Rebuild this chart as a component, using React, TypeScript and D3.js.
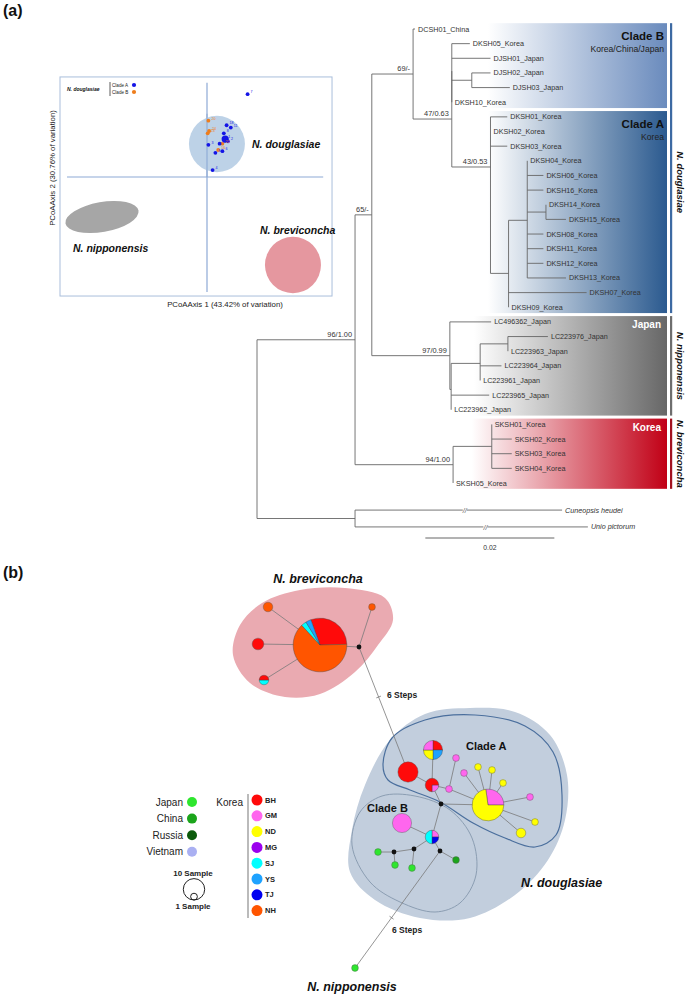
import React from "react";
import * as d3 from "d3";

const FONT = "'Liberation Sans', Arial, Helvetica, sans-serif";

// ---------------- PCoA data ----------------
const PCOA_POINTS = [
  { clade: "A", pc1: 0.29, pc2: 0.72, label: "7" },
  { clade: "B", pc1: 0.01, pc2: 0.49, label: "20" },
  { clade: "B", pc1: 0.015, pc2: 0.4, label: "24" },
  { clade: "B", pc1: 0.005, pc2: 0.38, label: "23" },
  { clade: "A", pc1: 0.14, pc2: 0.45, label: "18" },
  { clade: "A", pc1: 0.17, pc2: 0.43, label: "11" },
  { clade: "A", pc1: 0.12, pc2: 0.38, label: "8" },
  { clade: "A", pc1: 0.13, pc2: 0.33, label: "1", big: true },
  { clade: "A", pc1: 0.15, pc2: 0.31, label: "2" },
  { clade: "B", pc1: 0.11, pc2: 0.29, label: "22" },
  { clade: "A", pc1: 0.09, pc2: 0.29, label: "5" },
  { clade: "A", pc1: 0.01, pc2: 0.28, label: "3" },
  { clade: "B", pc1: 0.08, pc2: 0.235, label: "16" },
  { clade: "A", pc1: 0.06, pc2: 0.21, label: "9" },
  { clade: "A", pc1: 0.11, pc2: 0.225, label: "6" },
  { clade: "A", pc1: 0.04, pc2: 0.06, label: "4" },
];
const PCOA_CLADE_COLORS = { A: "#1414e6", B: "#ee7d1c" };
const PCOA_GROUPS = [
  { name: "N. douglasiae", pc1: 0.071, pc2: 0.287, r1: 0.2, r2: 0.245, rot: 0, fill: "#b6cde4" },
  { name: "N. nipponensis", pc1: -0.75, pc2: -0.348, r1: 0.265, r2: 0.13, rot: -10, fill: "#a6a6a6" },
  { name: "N. breviconcha", pc1: 0.614, pc2: -0.765, r1: 0.2, r2: 0.245, rot: 0, fill: "#e5979f" },
];
const PCOA_AXIS_LABELS = ["PCoAAxis 1 (43.42% of variation)", "PCoAAxis 2 (30.76% of variation)"];

// ---------------- Tree data ----------------
const TREE = {
  bl: 0,
  children: [
    {
      support: "96/1.00", bl: 0.0152, children: [
        {
          support: "65/-", bl: 0.0026, children: [
            {
              support: "69/-", bl: 0.0064, children: [
                { name: "DCSH01_China", bl: 0.0003 },
                {
                  support: "47/0.63", bl: 0.006, children: [
                    {
                      bl: 0, children: [
                        { name: "DKSH05_Korea", bl: 0.0028 },
                        { name: "DJSH01_Japan", bl: 0.006 },
                        { bl: 0.0031, children: [{ name: "DJSH02_Japan", bl: 0.0029 }, { name: "DJSH03_Japan", bl: 0.0059 }] },
                        { name: "DKSH10_Korea", bl: 0 },
                      ],
                    },
                    {
                      support: "43/0.53", bl: 0.006, children: [
                        { name: "DKSH01_Korea", bl: 0.0026 },
                        { name: "DKSH02_Korea", bl: 0 },
                        { name: "DKSH03_Korea", bl: 0.0026 },
                        {
                          bl: 0.0028, children: [
                            {
                              bl: 0.0029, children: [
                                { name: "DKSH04_Korea", bl: 0 },
                                { name: "DKSH06_Korea", bl: 0.0025 },
                                { name: "DKSH16_Korea", bl: 0.0025 },
                                { bl: 0.0029, children: [{ name: "DKSH14_Korea", bl: 0 }, { name: "DKSH15_Korea", bl: 0.0031 }] },
                                { name: "DKSH08_Korea", bl: 0.0025 },
                                { name: "DKSH11_Korea", bl: 0.0025 },
                                { name: "DKSH12_Korea", bl: 0.0025 },
                                { name: "DKSH13_Korea", bl: 0.006 },
                              ],
                            },
                            { name: "DKSH07_Korea", bl: 0.0121 },
                            { name: "DKSH09_Korea", bl: 0 },
                          ],
                        },
                      ],
                    },
                  ],
                },
              ],
            },
            {
              support: "97/0.99", bl: 0.0121, children: [
                { name: "LC496362_Japan", bl: 0.0064 },
                {
                  bl: 0.0002, children: [
                    {
                      bl: 0.0045, children: [
                        { bl: 0.0043, children: [{ name: "LC223976_Japan", bl: 0.0062 }, { name: "LC223963_Japan", bl: 0 }] },
                        { name: "LC223964_Japan", bl: 0.0033 },
                        { name: "LC223961_Japan", bl: 0 },
                      ],
                    },
                    { name: "LC223965_Japan", bl: 0.0059 },
                    { name: "LC223962_Japan", bl: 0 },
                  ],
                },
              ],
            },
          ],
        },
        {
          support: "94/1.00", bl: 0.0152, children: [
            {
              bl: 0.006, children: [
                { name: "SKSH01_Korea", bl: 0 },
                { name: "SKSH02_Korea", bl: 0.0031 },
                { name: "SKSH03_Korea", bl: 0.0031 },
                { name: "SKSH04_Korea", bl: 0.0031 },
              ],
            },
            { name: "SKSH05_Korea", bl: 0 },
          ],
        },
      ],
    },
    {
      bl: 0.0152, children: [
        { name: "Cuneopsis heudei", bl: 0.0321, outgroup: true, gap: 0.85, brk: 0.53 },
        { name: "Unio pictorum", bl: 0.0361, outgroup: true, gap: 0.15, brk: 0.56 },
      ],
    },
  ],
};

const CLADE_BOXES = [
  { label: "Clade B", sub: "Korea/China/Japan", first: "DCSH01_China", last: "DKSH10_Korea", color: "#6a8bbd", mid: 0.3, white: false },
  { label: "Clade A", sub: "Korea", first: "DKSH01_Korea", last: "DKSH09_Korea", color: "#2b5a8f", mid: 0.3, white: false },
  { label: "Japan", sub: "", first: "LC496362_Japan", last: "LC223962_Japan", color: "#676767", mid: 0.12, white: true },
  { label: "Korea", sub: "", first: "SKSH01_Korea", last: "SKSH05_Korea", color: "#c10016", mid: 0.12, white: true },
];
const SPECIES_BARS = [
  { name: "N. douglasiae", first: "DCSH01_China", last: "DKSH09_Korea", color: "#3d6aa3", shift: 14 },
  { name: "N. nipponensis", first: "LC496362_Japan", last: "LC223962_Japan", color: "#6e6e6e", shift: 0 },
  { name: "N. breviconcha", first: "SKSH01_Korea", last: "SKSH05_Korea", color: "#a3121f", shift: 0 },
];
const SCALE_BAR = 0.02;

// ---------------- Network data ----------------
const KOREA_POPS = ["BH", "GM", "ND", "MG", "SJ", "YS", "TJ", "NH"];
const KOREA_COLORS = ["#ff0a0a", "#ff66ee", "#ffff00", "#9b00ee", "#00ffff", "#1ea2ff", "#0000f0", "#ff5500"];
const COUNTRIES = ["Japan", "China", "Russia", "Vietnam"];
const COUNTRY_COLORS = ["#2ee62e", "#1ba51b", "#0b5a0b", "#aab0f2"];

const HAPLOTYPES = [
  { id: "b1", x: 120, y: 85, comp: { BH: 19, NH: 40, SJ: 2, YS: 2 }, rot: -20 },
  { id: "b2", x: 58, y: 84, comp: { BH: 3 }, rot: 0 },
  { id: "b3", x: 64, y: 120, comp: { SJ: 1, BH: 1 }, rot: 90 },
  { id: "b4", x: 68, y: 47, comp: { NH: 2 }, rot: 0 },
  { id: "b5", x: 172, y: 47, comp: { NH: 1 }, rot: 0 },
  { id: "a1", x: 208, y: 212, comp: { BH: 9 }, rot: 0 },
  { id: "a2", x: 233, y: 190, comp: { BH: 2, YS: 2, ND: 2, GM: 2 }, rot: 0 },
  { id: "a3", x: 232, y: 225, comp: { GM: 1, BH: 3 }, rot: 90 },
  { id: "a4", x: 256, y: 198, comp: { GM: 1 }, rot: 0 },
  { id: "a5", x: 249, y: 229, comp: { GM: 1 }, rot: 0 },
  { id: "a6", x: 264, y: 213, comp: { GM: 1 }, rot: 0 },
  { id: "a7", x: 278, y: 207, comp: { ND: 1 }, rot: 0 },
  { id: "a8", x: 292, y: 210, comp: { ND: 1 }, rot: 0 },
  { id: "a9", x: 288, y: 245, comp: { GM: 6, ND: 16 }, rot: -8 },
  { id: "a10", x: 303, y: 223, comp: { ND: 1 }, rot: 0 },
  { id: "a11", x: 330, y: 237, comp: { GM: 1 }, rot: 0 },
  { id: "a12", x: 335, y: 262, comp: { ND: 1 }, rot: 0 },
  { id: "a13", x: 321, y: 273, comp: { ND: 2 }, rot: 0 },
  { id: "c1", x: 202, y: 263, comp: { GM: 8 }, rot: 0 },
  { id: "c2", x: 232, y: 277, comp: { GM: 1, TJ: 1, SJ: 2 }, rot: 0 },
  { id: "c3", x: 178, y: 292, comp: { Japan: 1 }, rot: 0 },
  { id: "c4", x: 195, y: 305, comp: { Japan: 1 }, rot: 0 },
  { id: "c5", x: 212, y: 308, comp: { Japan: 1 }, rot: 0 },
  { id: "c6", x: 256, y: 300, comp: { China: 1 }, rot: 0 },
  { id: "n1", x: 155, y: 408, comp: { Japan: 1 }, rot: 0 },
];
const MEDIANS = [
  { id: "m1", x: 159, y: 87 },
  { id: "m2", x: 241, y: 244 },
  { id: "m3", x: 194, y: 292 },
  { id: "m4", x: 214, y: 289 },
  { id: "m5", x: 240, y: 291 },
];
const EDGES = [
  ["b1", "b2", 1], ["b1", "b3", 1], ["b1", "b4", 1], ["b1", "m1", 1], ["m1", "b5", 1],
  ["m1", "a1", 6],
  ["a1", "a3", 1], ["a3", "a2", 1], ["a3", "a5", 1], ["a5", "a4", 1], ["a3", "m2", 1], ["a5", "a9", 1],
  ["m2", "a9", 1], ["a6", "a9", 1], ["a7", "a9", 1], ["a8", "a9", 1], ["a10", "a9", 1], ["a11", "a9", 1],
  ["a12", "a9", 1], ["a13", "a9", 1],
  ["m2", "c2", 1], ["c1", "c2", 1], ["c2", "m4", 1], ["m4", "m3", 1], ["m3", "c3", 1], ["m3", "c4", 1],
  ["m4", "c5", 1], ["c2", "m5", 1], ["m5", "c6", 1],
  ["m5", "n1", 6],
];
const BLOB_BREVICONCHA = [[33, 95], [40, 65], [62, 43], [100, 30], [145, 28], [185, 38], [193, 60], [178, 85], [155, 112], [120, 134], [85, 137], [50, 123]];
const BLOB_DOUGLASIAE = [[150, 312], [152, 270], [165, 225], [190, 180], [225, 154], [270, 148], [315, 152], [350, 175], [367, 215], [365, 260], [348, 300], [315, 335], [270, 358], [220, 358], [175, 340]];
const OUTLINE_CLADE_A = [[183, 205], [192, 178], [225, 160], [275, 155], [325, 166], [353, 192], [362, 235], [356, 275], [335, 287], [305, 278], [273, 263], [240, 242], [210, 230], [188, 220]];
const OUTLINE_CLADE_B = [[152, 285], [160, 252], [182, 236], [215, 236], [250, 250], [272, 278], [276, 315], [260, 343], [235, 352], [200, 342], [170, 322]];

// ---------------- Component ----------------
export default function App() {
  const W = 685, H = 996;

  const xP = d3.scaleLinear().domain([-1, 1]).range([67, 347]);
  const yP = d3.scaleLinear().domain([-1, 1]).range([292, 62]);

  const root: any = d3.hierarchy(TREE as any, (d: any) => d.children);
  const tipY = d3.scaleLinear().domain([0, 31]).range([29, 483]);
  const xT = d3.scaleLinear().domain([0, SCALE_BAR]).range([257, 386]);
  let row = -1;
  root.leaves().forEach((l: any) => {
    row += 1 + (l.data.gap || 0);
    l.ty = tipY(row);
  });
  root.eachAfter((n: any) => {
    if (n.children) n.ty = d3.mean(n.children, (c: any) => c.ty);
  });
  root.eachBefore((n: any) => {
    n.len = (n.parent ? n.parent.len : 0) + n.data.bl;
    n.tx = xT(n.len);
  });
  const nodes: any[] = root.descendants();
  const leafBy: any = {};
  root.leaves().forEach((l: any) => (leafBy[l.data.name] = l));
  const leafNames = root.leaves().map((l: any) => l.data.name);
  const step = tipY(1) - tipY(0);
  const boxRight = 667;
  const lca = (a: any, b: any) => {
    const p = a.path(b);
    return p.reduce((m: any, n: any) => (n.depth < m.depth ? n : m), p[0]);
  };
  const speciesOf = (name: string) =>
    SPECIES_BARS.find((s) => {
      const i0 = leafNames.indexOf(s.first), i1 = leafNames.indexOf(s.last), i = leafNames.indexOf(name);
      return i >= i0 && i <= i1;
    });

  const branchColor = "#666";

  const nX = d3.scaleLinear().domain([0, 480]).range([200, 680]);
  const nY = d3.scaleLinear().domain([0, 420]).range([560, 980]);
  const rS = d3.scaleSqrt().domain([0, 10]).range([0, 10.7]);
  const colorOf = (k: string) => {
    const i = KOREA_POPS.indexOf(k);
    if (i >= 0) return KOREA_COLORS[i];
    return COUNTRY_COLORS[COUNTRIES.indexOf(k)];
  };
  const posBy: any = {};
  HAPLOTYPES.forEach((h) => (posBy[h.id] = { x: nX(h.x), y: nY(h.y) }));
  MEDIANS.forEach((m) => (posBy[m.id] = { x: nX(m.x), y: nY(m.y) }));
  const blobLine = d3
    .line<number[]>()
    .x((d) => nX(d[0]))
    .y((d) => nY(d[1]))
    .curve(d3.curveCatmullRomClosed.alpha(0.5));
  const arc = d3.arc<any>();

  return (
    <svg width={W} height={H} style={{ position: "absolute", left: 0, top: 0, background: "#fff" }} fontFamily={FONT}>
      <defs>
        {CLADE_BOXES.map((b, i) => (
          <linearGradient key={i} id={"grad" + i} x1="0" x2="1" y1="0" y2="0">
            <stop offset="0" stopColor="#ffffff" />
            <stop offset={b.mid} stopColor="#ffffff" stopOpacity={1} />
            <stop offset="1" stopColor={b.color} />
          </linearGradient>
        ))}
      </defs>

      <text x={3} y={16} fontSize={16} fontWeight="bold" fill="#111">(a)</text>

      {/* ============ PCoA ============ */}
      <g>
        <rect x={xP(-1.05)} y={yP(0.87)} width={xP(0.893) - xP(-1.05)} height={yP(-1.035) - yP(0.87)} fill="#fff" stroke="#a9bedb" strokeWidth={1} />
        <line x1={xP(0)} x2={xP(0)} y1={yP(0.82)} y2={yP(-1)} stroke="#8ea9d6" strokeWidth={1.2} />
        <line x1={xP(-1)} x2={xP(0.83)} y1={yP(0)} y2={yP(0)} stroke="#8ea9d6" strokeWidth={1.2} />
        {PCOA_GROUPS.map((g, i) => (
          <ellipse
            key={i}
            cx={xP(g.pc1)}
            cy={yP(g.pc2)}
            rx={xP(g.r1) - xP(0)}
            ry={yP(0) - yP(g.r2)}
            fill={g.fill}
            opacity={i === 0 ? 0.9 : 1}
            transform={`rotate(${g.rot} ${xP(g.pc1)} ${yP(g.pc2)})`}
          />
        ))}
        <line x1={xP(0)} x2={xP(0)} y1={yP(0.55)} y2={yP(0.0)} stroke="#8ea9d6" strokeWidth={1.2} opacity={0.8} />
        {PCOA_POINTS.map((p, i) => (
          <g key={i}>
            <circle cx={xP(p.pc1)} cy={yP(p.pc2)} r={p.big ? 3.6 : 1.9} fill={(PCOA_CLADE_COLORS as any)[p.clade]} />
            <text x={xP(p.pc1) + 3} y={yP(p.pc2) - 1} fontSize={3.6} fill={(PCOA_CLADE_COLORS as any)[p.clade]}>{p.label}</text>
          </g>
        ))}
        <text x={252} y={148} fontSize={10.5} fontWeight="bold" fontStyle="italic" fill="#111">{PCOA_GROUPS[0].name}</text>
        <text x={73} y={252} fontSize={10.5} fontWeight="bold" fontStyle="italic" fill="#111">{PCOA_GROUPS[1].name}</text>
        <text x={260} y={234} fontSize={10.5} fontWeight="bold" fontStyle="italic" fill="#111">{PCOA_GROUPS[2].name}</text>
        <text x={67} y={91} fontSize={5} fontWeight="bold" fontStyle="italic" fill="#111">N. douglasiae</text>
        <line x1={110} x2={110} y1={82} y2={96} stroke="#333" strokeWidth={0.8} />
        <text x={112} y={87} fontSize={4.6} fill="#222">Clade A</text>
        <circle cx={134} cy={85} r={2.1} fill={PCOA_CLADE_COLORS.A} />
        <text x={112} y={94} fontSize={4.6} fill="#222">Clade B</text>
        <circle cx={134} cy={92} r={2.1} fill={PCOA_CLADE_COLORS.B} />
        <text x={225} y={307} fontSize={7.8} textAnchor="middle" fill="#222">{PCOA_AXIS_LABELS[0]}</text>
        <text transform={`translate(55,168) rotate(-90)`} fontSize={7.8} textAnchor="middle" fill="#222">{PCOA_AXIS_LABELS[1]}</text>
      </g>

      {/* ============ Tree ============ */}
      <g>
        {CLADE_BOXES.map((b, i) => {
          const top = leafBy[b.first].ty - step / 2 + 1.5;
          const bot = leafBy[b.last].ty + step / 2 - 1.5;
          const sp = speciesOf(b.first)!;
          const anc = lca(leafBy[sp.first], leafBy[sp.last]);
          const left = anc.tx - (i === 3 ? 8 : 2);
          return <rect key={i} x={left} y={top} width={boxRight - left} height={bot - top} fill={`url(#grad${i})`} />;
        })}
        {CLADE_BOXES.map((b, i) => {
          const top = leafBy[b.first].ty - step / 2 + 1.5;
          if (b.white)
            return (
              <text key={i} x={boxRight - 6} y={top + 12} fontSize={10} fontWeight="bold" fill="#fff" textAnchor="end">{b.label}</text>
            );
          return (
            <g key={i}>
              <text x={boxRight - 3} y={top + 16.5} fontSize={11.5} fontWeight="bold" fill="#111" textAnchor="end">{b.label}</text>
              <text x={boxRight - 3} y={top + 29} fontSize={8.6} fill="#222" textAnchor="end">{b.sub}</text>
            </g>
          );
        })}
        {SPECIES_BARS.map((s, i) => {
          const top = leafBy[s.first].ty - step / 2 + 1.5;
          const bot = leafBy[s.last].ty + step / 2 - 1.5;
          const cy = (top + bot) / 2 + s.shift;
          return (
            <g key={i}>
              <rect x={670} y={top} width={2.2} height={bot - top} fill={s.color} />
              <text transform={`translate(677,${cy}) rotate(90)`} fontSize={9.5} fontWeight="bold" fontStyle="italic" textAnchor="middle" fill="#111">{s.name}</text>
            </g>
          );
        })}
        {nodes.filter((n) => n.parent).map((n, i) => (
          <line key={"h" + i} x1={n.parent.tx} x2={n.tx} y1={n.ty} y2={n.ty} stroke={branchColor} strokeWidth={0.9} />
        ))}
        {nodes.filter((n) => n.children).map((n, i) => {
          const ys = n.children.map((c: any) => c.ty);
          return <line key={"v" + i} x1={n.tx} x2={n.tx} y1={d3.min(ys)} y2={d3.max(ys)} stroke={branchColor} strokeWidth={0.9} />;
        })}
        {root.leaves().filter((l: any) => l.data.outgroup).map((l: any, i: number) => {
          const bx = l.parent.tx + (l.tx - l.parent.tx) * l.data.brk;
          return (
            <g key={"br" + i}>
              <rect x={bx - 2} y={l.ty - 1.5} width={4} height={3} fill="#fff" />
              <text x={bx} y={l.ty + 2.6} fontSize={7} fontStyle="italic" textAnchor="middle" fill="#555">//</text>
            </g>
          );
        })}
        {root.leaves().map((l: any, i: number) => (
          <text key={"t" + i} x={l.tx + 3} y={l.ty} dy="0.35em" fontSize={7.2} fontStyle={l.data.outgroup ? "italic" : "normal"} fill="#333">{l.data.name}</text>
        ))}
        {nodes.filter((n) => n.data.support).map((n, i) => (
          <text key={"s" + i} x={n.tx - 3} y={n.ty - 3} fontSize={7.4} textAnchor="end" fill="#333">{n.data.support}</text>
        ))}
        <line x1={xT(0.0261)} x2={xT(0.0261 + SCALE_BAR)} y1={538} y2={538} stroke="#555" strokeWidth={0.9} />
        <text x={(xT(0.0261) + xT(0.0261 + SCALE_BAR)) / 2} y={550} fontSize={6.8} textAnchor="middle" fill="#333">{SCALE_BAR}</text>
      </g>

      {/* ============ Network ============ */}
      <text x={3} y={578} fontSize={16} fontWeight="bold" fill="#111">(b)</text>
      <g>
        <path d={blobLine(BLOB_BREVICONCHA as any)!} fill="#eaaab1" />
        <path d={blobLine(BLOB_DOUGLASIAE as any)!} fill="#c2cedd" />
        <path d={blobLine(OUTLINE_CLADE_A as any)!} fill="none" stroke="#4b6f9d" strokeWidth={1.2} />
        <path d={blobLine(OUTLINE_CLADE_B as any)!} fill="none" stroke="#8497ad" strokeWidth={0.9} />
        {EDGES.map((e, i) => {
          const a = posBy[e[0] as string], b = posBy[e[1] as string];
          const steps = e[2] as number;
          const tickT = e[1] === "a1" ? 0.4 : 0.57;
          const tx = a.x + (b.x - a.x) * tickT, ty = a.y + (b.y - a.y) * tickT;
          const ang = Math.atan2(b.y - a.y, b.x - a.x);
          return (
            <g key={i}>
              <line x1={a.x} y1={a.y} x2={b.x} y2={b.y} stroke="#7a7a7a" strokeWidth={0.8} />
              {steps > 1 && (
                <line
                  x1={tx - 2.5 * Math.cos(ang + Math.PI / 2)}
                  y1={ty - 2.5 * Math.sin(ang + Math.PI / 2)}
                  x2={tx + 2.5 * Math.cos(ang + Math.PI / 2)}
                  y2={ty + 2.5 * Math.sin(ang + Math.PI / 2)}
                  stroke="#777"
                  strokeWidth={0.8}
                />
              )}
            </g>
          );
        })}
        {MEDIANS.map((m, i) => (
          <circle key={i} cx={nX(m.x)} cy={nY(m.y)} r={2.4} fill="#111" />
        ))}
        {HAPLOTYPES.map((h, i) => {
          const entries = Object.entries(h.comp);
          const total = d3.sum(entries, (e) => e[1] as number);
          const r = rS(total);
          const rot = (h.rot * Math.PI) / 180;
          const pie = d3.pie<any>().sort(null).value((d: any) => d[1]).startAngle(rot).endAngle(rot + 2 * Math.PI);
          const arcs = pie(entries);
          return (
            <g key={i} transform={`translate(${nX(h.x)},${nY(h.y)})`}>
              {arcs.length === 1 ? (
                <circle r={r} fill={colorOf(entries[0][0])} stroke="#555" strokeWidth={0.4} />
              ) : (
                arcs.map((a, j) => (
                  <path key={j} d={arc({ ...a, innerRadius: 0, outerRadius: r })!} fill={colorOf(a.data[0])} stroke="#444" strokeWidth={0.4} />
                ))
              )}
            </g>
          );
        })}
        <text x={318} y={583} fontSize={12.5} fontWeight="bold" fontStyle="italic" textAnchor="middle" fill="#111">N. breviconcha</text>
        <text x={521} y={887} fontSize={12.5} fontWeight="bold" fontStyle="italic" fill="#111">N. douglasiae</text>
        <text x={352} y={991} fontSize={12.5} fontWeight="bold" fontStyle="italic" textAnchor="middle" fill="#111">N. nipponensis</text>
        <text x={466} y={750} fontSize={11} fontWeight="bold" fill="#111">Clade A</text>
        <text x={367} y={812} fontSize={11} fontWeight="bold" fill="#111">Clade B</text>
        <text x={387} y={698} fontSize={8.5} fontWeight="bold" fill="#222">6 Steps</text>
        <text x={392} y={933} fontSize={8.5} fontWeight="bold" fill="#222">6 Steps</text>

        {COUNTRIES.map((c, i) => (
          <g key={c}>
            <text x={183} y={802 + i * 16.6} dy="0.35em" fontSize={10} textAnchor="end" fill="#222">{c}</text>
            <circle cx={192} cy={802 + i * 16.6} r={5} fill={COUNTRY_COLORS[i]} />
          </g>
        ))}
        <text x={243} y={802} dy="0.35em" fontSize={10} textAnchor="end" fill="#222">Korea</text>
        <rect x={247} y={794} width={2} height={124} fill="#bbb" />
        {KOREA_POPS.map((p, i) => (
          <g key={p}>
            <circle cx={257} cy={800 + i * 15.8} r={5.5} fill={KOREA_COLORS[i]} />
            <text x={265} y={800 + i * 15.8} dy="0.35em" fontSize={7.5} fontWeight="bold" fill="#222">{p}</text>
          </g>
        ))}
        <text x={193} y={876} fontSize={8} fontWeight="bold" textAnchor="middle" fill="#222">10 Sample</text>
        <circle cx={194} cy={900 - rS(10)} r={rS(10)} fill="none" stroke="#222" strokeWidth={1} />
        <circle cx={194} cy={900 - rS(1)} r={rS(1)} fill="none" stroke="#222" strokeWidth={1} />
        <text x={193} y={909} fontSize={8} fontWeight="bold" textAnchor="middle" fill="#222">1 Sample</text>
      </g>
    </svg>
  );
}
